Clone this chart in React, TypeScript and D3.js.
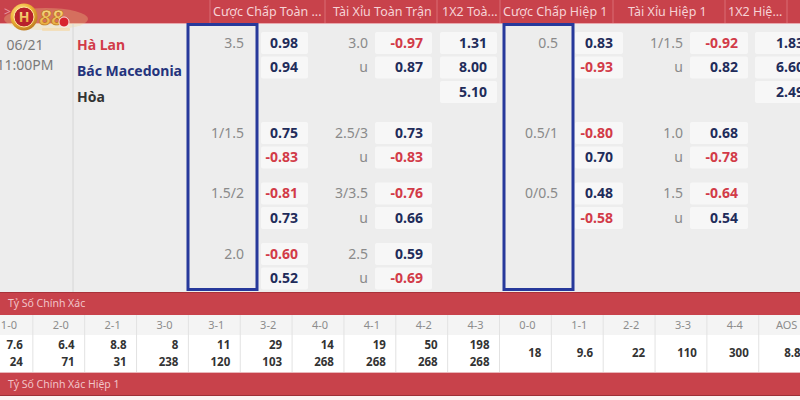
import React from "react";
import * as d3 from "d3";

const W = 800;
const H = 400;

// header + match info
const headerLabels = ["Cược Chấp Toàn ...", "Tài Xỉu Toàn Trận", "1X2 Toà...", "Cược Chấp Hiệp 1", "Tài Xỉu Hiệp 1", "1X2 Hiệ..."];
const matchDate = "06/21";
const matchTime = "11:00PM";
const teams = ["Hà Lan", "Bác Macedonia", "Hòa"];

// full time markets
const hdpLines = ["3.5", "1/1.5", "1.5/2", "2.0"];
const hdpOdds = [[0.98, 0.94], [0.75, -0.83], [-0.81, 0.73], [-0.6, 0.52]];
const ouLines = ["3.0", "2.5/3", "3/3.5", "2.5"];
const ouOdds = [[-0.97, 0.87], [0.73, -0.83], [-0.76, 0.66], [0.59, -0.69]];
const odds1x2 = [1.31, 8.0, 5.1];

// first half markets
const htHdpLines = ["0.5", "0.5/1", "0/0.5"];
const htHdpOdds = [[0.83, -0.93], [-0.8, 0.7], [0.48, -0.58]];
const htOuLines = ["1/1.5", "1.0", "1.5"];
const htOuOdds = [[-0.92, 0.82], [0.68, -0.78], [-0.64, 0.54]];
const htOdds1x2 = [1.83, 6.6, 2.49];

// correct score
const sectionTitles = ["Tỷ Số Chính Xác", "Tỷ Số Chính Xác Hiệp 1"];
const scoreLabels = ["1-0", "2-0", "2-1", "3-0", "3-1", "3-2", "4-0", "4-1", "4-2", "4-3", "0-0", "1-1", "2-2", "3-3", "4-4", "AOS"];
const homeScoreOdds = [7.6, 6.4, 8.8, 8, 11, 29, 14, 19, 50, 198];
const awayScoreOdds = [24, 71, 31, 238, 120, 103, 268, 268, 268, 268];
const drawScoreOdds = [18, 9.6, 22, 110, 300, 8.8];

const FONT = "'Noto Sans', 'Open Sans', sans-serif";
const RED = "#c8424b";
const NEG = "#d23b48";
const POS = "#1f2c5a";
const BLUE = "#27399b";

// plain hyphen for negatives, like the site does
const fmt = d3.formatLocale({ decimal: ".", thousands: ",", grouping: [3], currency: ["", ""], minus: "-" }).format(".2f");

// y of a group's first row (group 0 has three rows)
const groupY = (g: number) => (g === 0 ? 43 : d3.scaleLinear().domain([1, 3]).range([133, 254])(g));
const rowStep = 24.5;
const teamY = d3.scaleLinear().domain([0, 2]).range([45, 97]);

const headerX = [213, 333, 442, 503, 628, 728];
const headerSeps = [210, 325, 437, 500, 613, 725, 787];

type Col = { lineRight?: number; boxX: number; boxW: number; valRight: number };
const cHdp: Col = { lineRight: 244, boxX: 261, boxW: 47, valRight: 298 };
const cOu: Col = { lineRight: 368, boxX: 375, boxW: 57, valRight: 423 };
const c1x2: Col = { boxX: 440, boxW: 57, valRight: 487 };
const cHtHdp: Col = { lineRight: 558, boxX: 575, boxW: 48, valRight: 613 };
const cHtOu: Col = { lineRight: 683, boxX: 690, boxW: 58, valRight: 738 };
const cHt1x2: Col = { boxX: 755, boxW: 58, valRight: 804 };

function OddCell({ col, y, v }: { col: Col; y: number; v: number }) {
  return (
    <g>
      <rect x={col.boxX} y={y - 11} width={col.boxW} height={22} rx={2} fill="#f7f7f7" />
      <text x={col.valRight} y={y} dy="0.35em" textAnchor="end" fontWeight="bold" fontSize={14}
        fill={v < 0 ? NEG : POS}>{fmt(v)}</text>
    </g>
  );
}

function LineLabel({ col, y, t }: { col: Col; y: number; t: string }) {
  return (
    <text x={col.lineRight} y={y} dy="0.35em" textAnchor="end" fontSize={14} fill="#8a8a8a">{t}</text>
  );
}

function Market({ col, lines, odds, over }: { col: Col; lines: string[]; odds: number[][]; over: boolean }) {
  return (
    <g>
      {odds.map((pair, g) => {
        const y0 = groupY(g);
        return (
          <g key={g}>
            <LineLabel col={col} y={y0} t={lines[g]} />
            {over && <LineLabel col={col} y={y0 + rowStep} t="u" />}
            {pair.map((v, i) => <OddCell key={i} col={col} y={y0 + i * rowStep} v={v} />)}
          </g>
        );
      })}
    </g>
  );
}

function Logo() {
  return (
    <g>
      <defs>
        <radialGradient id="gold" cx="40%" cy="35%" r="70%">
          <stop offset="0%" stopColor="#fff3b0" />
          <stop offset="55%" stopColor="#f0b63a" />
          <stop offset="100%" stopColor="#b8741a" />
        </radialGradient>
        <linearGradient id="gold2" x1="0" y1="0" x2="0" y2="1">
          <stop offset="0%" stopColor="#fff1a8" />
          <stop offset="100%" stopColor="#e39a22" />
        </linearGradient>
      </defs>
      <ellipse cx={46} cy={19} rx={42} ry={11} fill="#f6d68a" opacity={0.3} />
      <circle cx={24} cy={17} r={13.5} fill="url(#gold)" />
      <circle cx={24} cy={17} r={10} fill="#b8222c" stroke="#ffe79a" strokeWidth={1} />
      <text x={24} y={17} dy="0.36em" textAnchor="middle" fontSize={14} fontWeight="bold" fill="url(#gold2)" fontFamily={FONT}>H</text>
      <text x={39} y={25} fontSize={22} fontWeight="bold" fontStyle="italic" fill="url(#gold2)" stroke="#b56d16" strokeWidth={0.6} fontFamily={FONT}>88</text>
      <circle cx={64} cy={22} r={5} fill="#d8252f" stroke="#fff" strokeWidth={0.8} />
      <rect x={42} y={28} width={28} height={3} rx={1} fill="#f3d9a8" opacity={0.7} />
    </g>
  );
}

export default function App() {
  const band = d3.scaleBand<string>().domain(scoreLabels).range([-19, -19 + 51.85 * scoreLabels.length]);
  const bw = band.bandwidth();
  const nScore = homeScoreOdds.length;

  return (
    <svg width={W} height={H} style={{ position: "absolute", left: 0, top: 0 }} fontFamily={FONT}>
      {/* body background */}
      <rect x={0} y={0} width={W} height={H} fill="#ededed" />

      {/* header */}
      <rect x={0} y={0} width={W} height={23} fill={RED} />
      <rect x={0} y={23} width={W} height={1} fill="#e8a9ae" />
      {headerSeps.map((x) => <line key={x} x1={x} x2={x} y1={0} y2={23} stroke="#d96c74" />)}
      {headerLabels.map((t, i) => (
        <text key={t} x={headerX[i]} y={12} dy="0.35em" fontSize={12.5} fill="#f6d3d6">{t}</text>
      ))}
      <text x={4} y={12} dy="0.35em" fontSize={12} fill="#e99aa0">{">"}</text>
      <Logo />

      {/* date + teams */}
      <line x1={73} x2={73} y1={24} y2={292} stroke="#d6d6d6" />
      <text x={25} y={45} dy="0.35em" textAnchor="middle" fontSize={14} fill="#7a7a7a">{matchDate}</text>
      <text x={25} y={65} dy="0.35em" textAnchor="middle" fontSize={14} fill="#7a7a7a">{matchTime}</text>
      {teams.map((t, i) => (
        <text key={t} x={77} y={teamY(i)} dy="0.35em" fontSize={14} fontWeight="bold"
          fill={i === 0 ? NEG : i === 1 ? "#24337c" : "#333"}>{t}</text>
      ))}

      {/* markets */}
      <Market col={cHdp} lines={hdpLines} odds={hdpOdds} over={false} />
      <Market col={cOu} lines={ouLines} odds={ouOdds} over={true} />
      {odds1x2.map((v, i) => <OddCell key={i} col={c1x2} y={groupY(0) + i * rowStep} v={v} />)}
      <Market col={cHtHdp} lines={htHdpLines} odds={htHdpOdds} over={false} />
      <Market col={cHtOu} lines={htOuLines} odds={htOuOdds} over={true} />
      {htOdds1x2.map((v, i) => <OddCell key={i} col={cHt1x2} y={groupY(0) + i * rowStep} v={v} />)}

      {/* highlight boxes */}
      <rect x={188} y={24.5} width={69} height={265} fill="none" stroke={BLUE} strokeWidth={3} />
      <rect x={504} y={24.5} width={69} height={265} fill="none" stroke={BLUE} strokeWidth={3} />

      {/* correct score section */}
      <rect x={0} y={292} width={W} height={23} fill={RED} />
      <rect x={0} y={292} width={W} height={1} fill="#a8323a" />
      <text x={8} y={303} dy="0.35em" fontSize={10.5} fill="#f1c4c8">{sectionTitles[0]}</text>
      <rect x={0} y={315} width={W} height={20} fill="#f4f4f4" />
      <rect x={0} y={335} width={W} height={37} fill="#ffffff" />
      {scoreLabels.map((s, i) => {
        const x = band(s)!;
        return (
          <g key={s}>
            <line x1={x + bw} x2={x + bw} y1={315} y2={372} stroke="#e2e2e2" />
            <text x={x + bw / 2 + 2} y={325} dy="0.35em" textAnchor="middle" fontSize={11} fill="#8c8c8c">{s}</text>
            {i < nScore ? (
              <>
                <text x={x + bw - 10} y={345} dy="0.35em" textAnchor="end" fontSize={11.5} fontWeight="bold" fill="#333">{homeScoreOdds[i]}</text>
                <text x={x + bw - 10} y={362} dy="0.35em" textAnchor="end" fontSize={11.5} fontWeight="bold" fill="#333">{awayScoreOdds[i]}</text>
              </>
            ) : (
              <text x={x + bw - 10} y={353} dy="0.35em" textAnchor="end" fontSize={11.5} fontWeight="bold" fill="#333">{drawScoreOdds[i - nScore]}</text>
            )}
          </g>
        );
      })}
      <rect x={0} y={372} width={W} height={24} fill={RED} />
      <rect x={0} y={372} width={W} height={1} fill="#e9b7bb" />
      <rect x={0} y={395} width={W} height={1} fill="#9e2f37" />
      <text x={8} y={384} dy="0.35em" fontSize={10.5} fill="#f1c4c8">{sectionTitles[1]}</text>
      <rect x={0} y={396} width={W} height={4} fill="#fbf3f4" />
    </svg>
  );
}
